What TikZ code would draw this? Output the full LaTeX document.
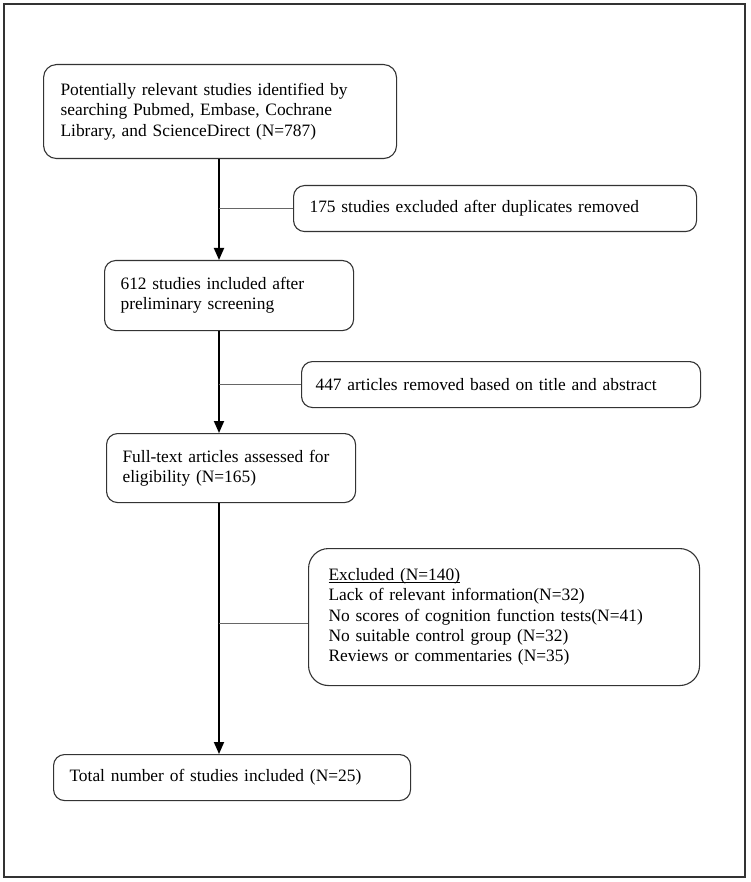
\documentclass[tikz,border=0pt]{standalone}
\usepackage{fontspec}
\setmainfont{Liberation Serif}
\usetikzlibrary{arrows.meta}
\newcommand\myul[1]{\setbox0\hbox{#1}\rlap{\rule[-2.4pt]{\wd0}{0.8pt}}\box0}
\begin{document}
\begin{tikzpicture}[x=1pt,y=-1pt,
  box/.style={draw=black!80, line width=1.1pt, rounded corners=11pt, anchor=north west,
    align=left, inner xsep=16pt, inner ysep=0pt,
    font=\fontsize{17.4}{20.3}\selectfont},
  arr/.style={line width=1.8pt, -{Triangle[length=12pt,width=10pt]}},
  side/.style={draw=black!60, line width=1pt},
  frame/.style={draw=black!80, line width=1.6pt}]
\useasboundingbox (0,0) rectangle (750,882);
\draw[frame] (4,4) rectangle (745,877);
\coordinate (ax) at (219,0);
\node[box, rounded corners=13pt, inner xsep=17pt, minimum width=353pt, minimum height=94pt, text width=319pt] (b1) at (43,64)
  {Potentially relevant studies identified by\\searching Pubmed, Embase, Cochrane\\Library, and ScienceDirect (N=787)};
\node[box, minimum width=403pt, minimum height=46pt, text width=371pt] (b3) at (293,185)
  {175 studies excluded after duplicates removed};
\node[box, minimum width=249pt, minimum height=70pt, text width=217pt] (b2) at (104,260)
  {612 studies included after\\preliminary screening};
\node[box, inner xsep=14pt, minimum width=399pt, minimum height=46pt, text width=371pt] (b4) at (301,361)
  {447 articles removed based on title and abstract};
\node[box, minimum width=249pt, minimum height=69pt, text width=217pt] (b5) at (106,433)
  {Full-text articles assessed for\\eligibility (N=165)};
\node[box, rounded corners=20pt, inner xsep=20pt, minimum width=391pt, minimum height=137pt, text width=351pt] (b6) at (308,548)
  {\myul{Excluded (N=140)}\\Lack of relevant information(N=32)\\No scores of cognition function tests(N=41)\\No suitable control group (N=32)\\Reviews or commentaries (N=35)};
\node[box, minimum width=357pt, minimum height=46pt, text width=325pt] (b7) at (53,754)
  {Total number of studies included (N=25)};
\draw[arr] (b1.south -| ax) -- (b2.north -| ax);
\draw[arr] (b2.south -| ax) -- (b5.north -| ax);
\draw[arr] (b5.south -| ax) -- (b7.north -| ax);
\draw[side] (b3.west) -- (b3.west -| ax);
\draw[side] (b4.west) -- (b4.west -| ax);
\draw[side] ([yshift=-6.5pt]b6.west) -- ([yshift=-6.5pt]b6.west -| ax);
\end{tikzpicture}
\end{document}
